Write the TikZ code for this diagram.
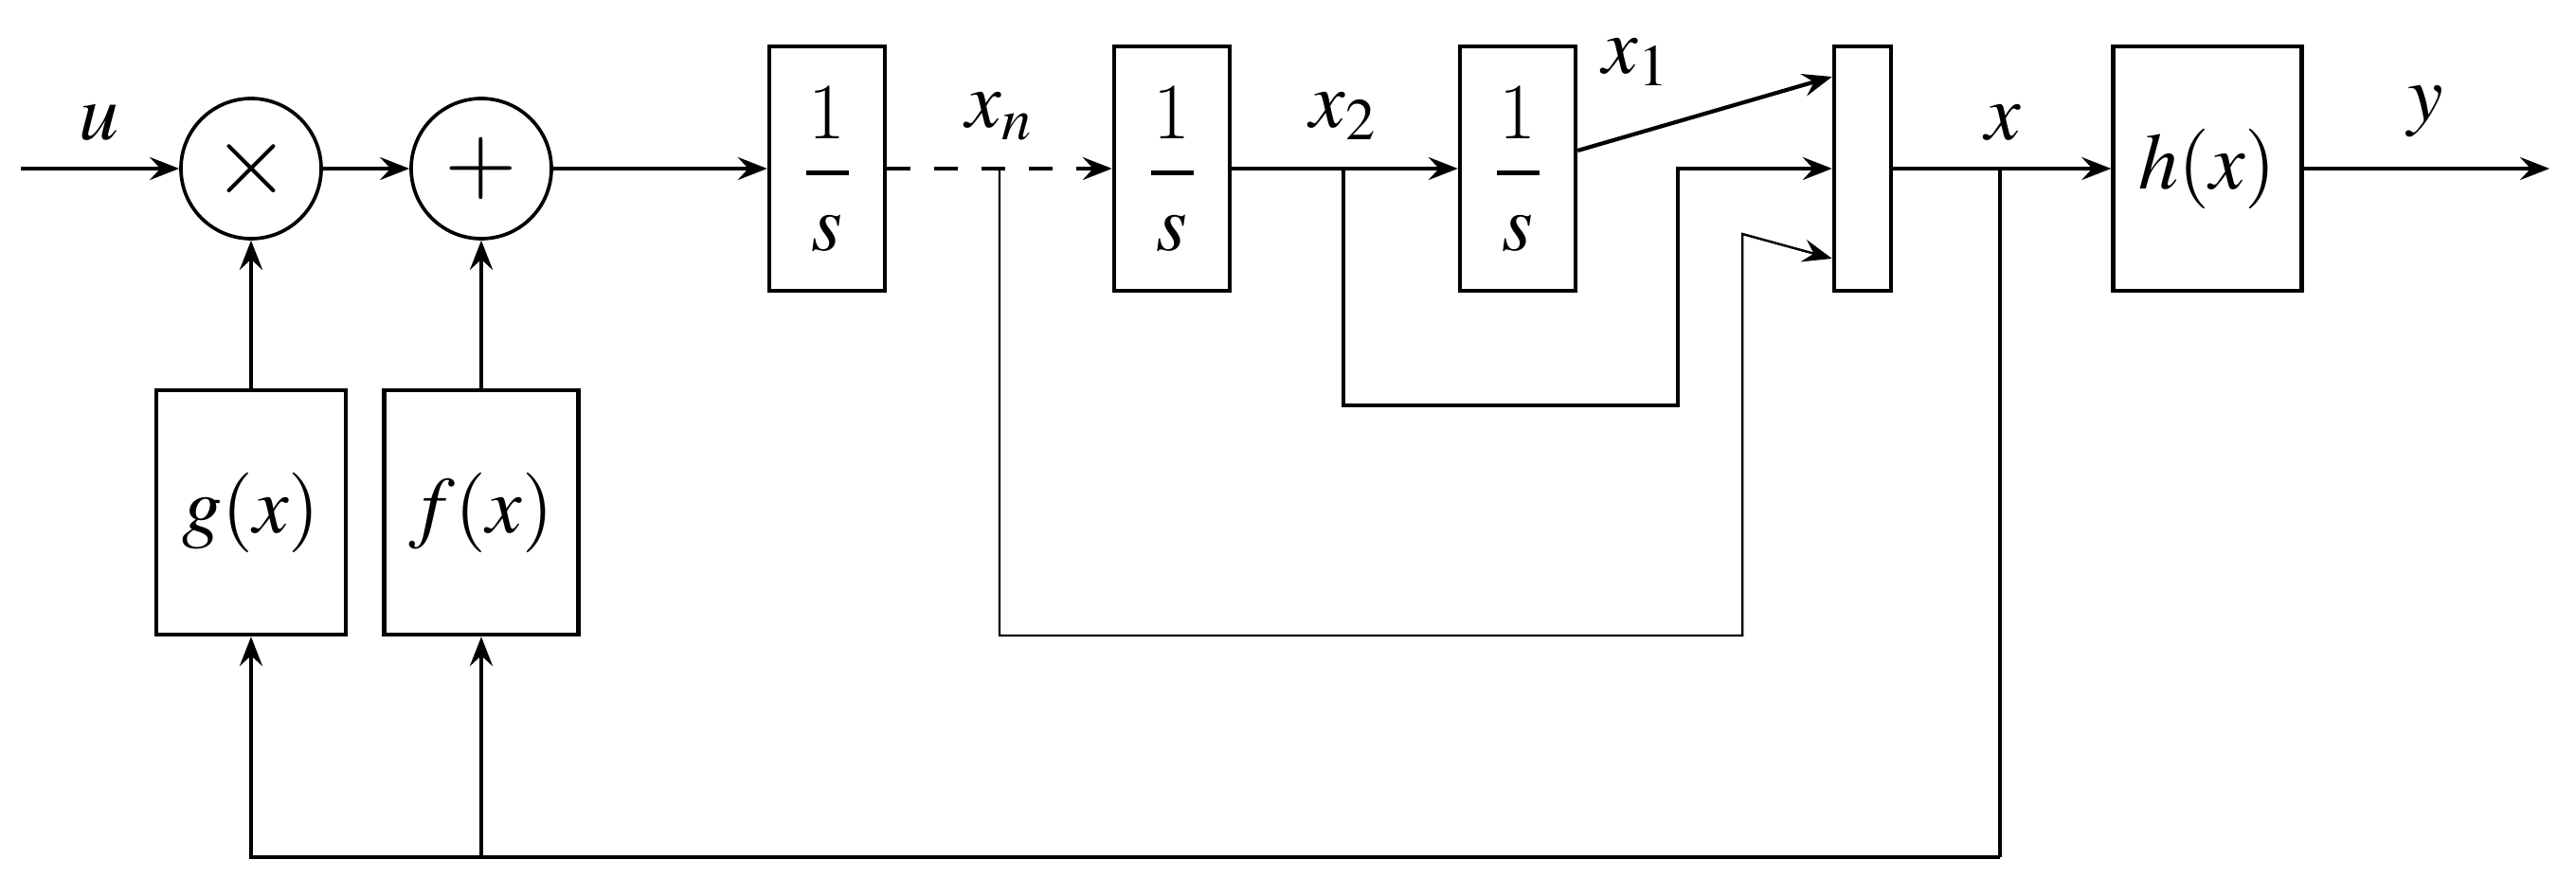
\documentclass[tikz,border=0pt]{standalone}
\usepackage{amsmath}
\usepackage{mathptmx}
\usepackage{tikz}
\usetikzlibrary{arrows.meta,positioning}
\tikzstyle{arrow} = [line width=1.2pt, -{Stealth[length=3.1mm,width=2.4mm,inset=1.1mm]}]
\tikzstyle{thinarrow} = [line width=0.7pt, -{Stealth[length=3.1mm,width=2.4mm,inset=1.1mm]}]
\tikzstyle{wire} = [line width=1.2pt]
% 1/s with a bold bar, spaced as in display style
\newcommand{\invs}{1\\[-17pt]\rule{0.45cm}{1.6pt}\\[-5.5pt]$s$}

\begin{document}
\begin{tikzpicture}[font=\fontsize{24}{28}\selectfont]
		\useasboundingbox (0,0) rectangle (27.19,9.26);
		\coordinate (input) at (0.22,7.48);
		\coordinate (mult) at (2.65,7.48);
		\coordinate (sum) at (5.08,7.48);
		\coordinate (intn) at (8.73,7.48);
		\coordinate (int2) at (12.37,7.48);
		\coordinate (int1) at (16.02,7.48);
		\coordinate (mux) at (19.66,7.48);
		\coordinate (hout) at (23.30,7.48);
		\coordinate (output) at (26.91,7.48);
		\coordinate (gfun) at (2.65,3.85);
		\coordinate (ffun) at (5.08,3.85);
		% Branch points
		\coordinate (xnbranch) at (10.55,7.48);
		\coordinate (xnlow) at (18.39,2.55);
		\coordinate (xntop) at (18.39,6.79);
		\coordinate (x2branch) at (14.18,7.48);
		\coordinate (x2low) at (17.71,4.98);
		\coordinate (xbranch) at (21.11,7.48);
		\coordinate (feedback) at (21.11,0.21);
		% Product and sum
		\begin{scope}[every node/.style={draw, line width=1.05pt, circle, minimum size=1.48cm, inner sep=0pt}]
		\node[name=mult] at (mult) {\fontsize{30}{30}\selectfont$\times$};
		\node[name=sum] at (sum) {\fontsize{28}{28}\selectfont$+$};
		\end{scope}
		% Integrators, mux and output map
		\begin{scope}[every node/.style={draw, line width=1.25pt, rectangle, minimum width=1.22cm, minimum height=2.58cm, inner sep=0pt, align=center}]
		\node[name=intn] at (intn) {\invs};
		\node[name=int2] at (int2) {\invs};
		\node[name=int1] at (int1) {\invs};
		\node[name=mux, minimum width=0.6cm] at (mux) {};
		\node[name=hout, minimum width=1.99cm] at (hout) {$h(x)$};
		\end{scope}
		% Nonlinear functions
		\begin{scope}[every node/.style={draw, line width=1.25pt, rectangle, minimum width=2cm, minimum height=2.58cm, inner sep=0pt}]
		\node[name=gfun] at (gfun) {$g(x)$};
		\node[name=ffun, minimum width=2.05cm] at (ffun) {$f(x)$};
		\end{scope}
		\draw [arrow] (input)--(mult);
		\draw [arrow] (mult)--(sum);
		\draw [arrow] (sum)--(intn);
		\draw [arrow, dash pattern=on 2.5mm off 2.5mm] (intn)--(int2);
		\draw [arrow] (int2)--(int1);
		\draw [arrow] ([yshift=0.19cm]int1.east)--([yshift=0.97cm]mux.west);
		\draw [arrow] (mux)--(hout);
		\draw [arrow] (hout)--(output);
		\draw [arrow] (gfun)--(mult);
		\draw [arrow] (ffun)--(sum);
		% State feedback into the mux
		\draw [arrow] (x2branch) |- (x2low) |- (mux.west);
		\draw [thinarrow] (xnbranch) |- (xnlow) -- (xntop) -- ([yshift=-0.95cm]mux.west);
		% Feedback of x
		\draw [wire] (xbranch)--(feedback);
		\draw [arrow] (feedback) -| (gfun);
		\draw [arrow] (ffun |- feedback)--(ffun);
		% Labels
		\node[name=ulabel, anchor=base] at (1.05,7.78) {$u$};
		\node[name=xnlabel, anchor=base] at (10.55,7.91) {$x_n$};
		\node[name=xtwolabel, anchor=base] at (14.18,7.91) {$x_2$};
		\node[name=xonelabel, anchor=base] at (17.27,8.48) {$x_1$};
		\node[name=xlabel, anchor=base] at (21.14,7.78) {$x$};
		\node[name=ylabel, anchor=base] at (25.60,7.98) {$y$};
		\end{tikzpicture}
\end{document}
